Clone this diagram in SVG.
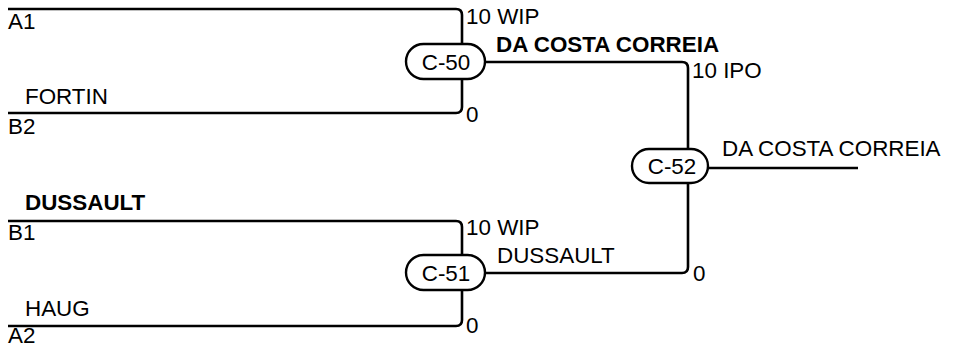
<svg xmlns="http://www.w3.org/2000/svg" width="956" height="347" viewBox="0 0 956 347">
<style>
.w{fill:none;stroke:#000;stroke-width:2.6;stroke-linejoin:round}
.p{fill:#fff;stroke:#000;stroke-width:2.4}
text{font-family:"Liberation Sans",Arial,sans-serif;font-size:22.4px;fill:#000}
.b{font-weight:bold}
.c{text-anchor:middle}
</style>
<rect width="956" height="347" fill="#fff"/>
<g id="connectors">
<path class="w" d="M8,9 H456 Q462,9 462,15 V44"/>
<path class="w" d="M462,79 V107 Q462,113 456,113 H8"/>
<path class="w" d="M8,221 H456 Q462,221 462,227 V255"/>
<path class="w" d="M462,290 V320 Q462,326 456,326 H8"/>
<path class="w" d="M485,62 H682 Q688,62 688,68 V149"/>
<path class="w" d="M485,273 H682 Q688,273 688,267 V183"/>
<path class="w" d="M708,168 H858"/>
</g>
<g id="C-50">
<rect class="p" x="406" y="44" width="79" height="35" rx="17.5"/>
<text class="c" x="446" y="70">C-50</text>
</g>
<g id="C-51">
<rect class="p" x="406" y="255" width="79" height="35" rx="17.5"/>
<text class="c" x="446" y="281">C-51</text>
</g>
<g id="C-52">
<rect class="p" x="632" y="149" width="76" height="34" rx="17"/>
<text class="c" x="672" y="174">C-52</text>
</g>
<g id="labels">
<text x="8" y="29">A1</text>
<text x="25" y="104">FORTIN</text>
<text x="8" y="134">B2</text>
<text class="b" x="25" y="210">DUSSAULT</text>
<text x="8" y="240">B1</text>
<text x="25" y="316">HAUG</text>
<text x="8" y="343">A2</text>
<text x="466" y="24">10 WIP</text>
<text class="b" x="496" y="52">DA COSTA CORREIA</text>
<text x="466" y="122">0</text>
<text x="692" y="78">10 IPO</text>
<text x="722" y="156">DA COSTA CORREIA</text>
<text x="466" y="235">10 WIP</text>
<text x="497" y="263">DUSSAULT</text>
<text x="693" y="281">0</text>
<text x="466" y="333">0</text>
</g>
</svg>
